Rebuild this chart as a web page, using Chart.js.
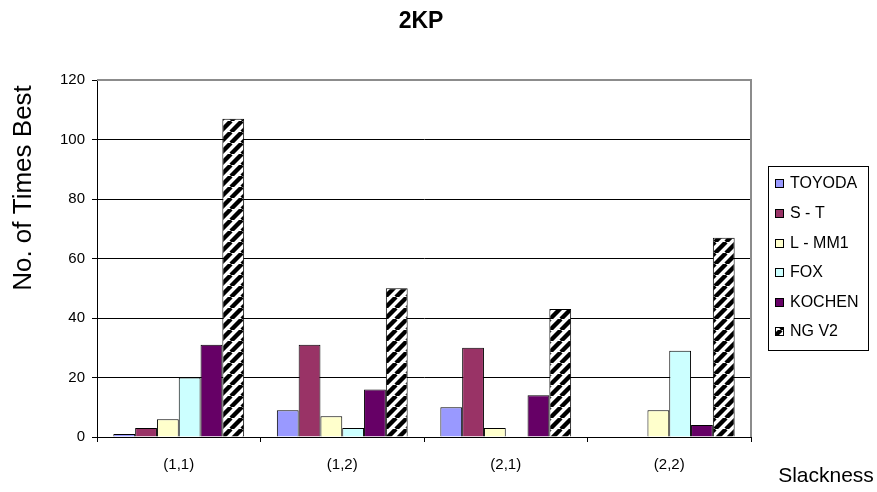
<!DOCTYPE html>
<html>
<head>
<meta charset="utf-8">
<script src="https://cdn.jsdelivr.net/npm/chart.js@4.4.1/dist/chart.umd.min.js"></script>
<style>
  html, body { margin: 0; padding: 0; background: #fff; }
  #wrap { width: 877px; height: 492px; position: relative; }
</style>
</head>
<body>
<div id="wrap"><canvas id="c" width="877" height="492"></canvas></div>
<script>
// Slackness settings on the x axis
const categories = ['(1,1)', '(1,2)', '(2,1)', '(2,2)'];

// Number of times each method was best
const toyoda = [1, 9, 10, 0];
const st     = [3, 31, 30, 0];
const lmm1   = [6, 7, 3, 9];
const fox    = [20, 3, 0, 29];
const kochen = [31, 16, 14, 4];
const ngv2   = [107, 50, 43, 67];

const seriesNames = ['TOYODA', 'S - T', 'L - MM1', 'FOX', 'KOCHEN', 'NG V2'];
const yTicks = [0, 20, 40, 60, 80, 100, 120];

const FONT = '"Liberation Sans", Arial, sans-serif';

// White fill with black "/" diagonal stripes
function stripePattern() {
  const P = 11;
  const t = document.createElement('canvas');
  t.width = P; t.height = P;
  const g = t.getContext('2d');
  g.fillStyle = '#fff';
  g.fillRect(0, 0, P, P);
  g.strokeStyle = '#000';
  g.lineWidth = 4.4;
  g.beginPath();
  for (let k = -1; k <= 1; k++) {
    g.moveTo(k * P, P);
    g.lineTo(k * P + P, 0);
  }
  g.stroke();
  return document.getElementById('c').getContext('2d').createPattern(t, 'repeat');
}

const fills = ['#9999FF', '#993366', '#FFFFCC', '#CCFFFF', '#660066', stripePattern()];
const values = [toyoda, st, lmm1, fox, kochen, ngv2];

const datasets = values.map((v, i) => ({
  label: seriesNames[i],
  data: v,
  backgroundColor: fills[i],
  borderColor: '#000',
  borderWidth: 1,
  categoryPercentage: 0.8,
  barPercentage: 1.0
}));

// Title, axis titles, plot frame and boxed legend
const decorations = {
  id: 'decorations',
  afterDraw(chart) {
    const ctx = chart.ctx;
    const a = chart.chartArea;
    ctx.save();

    // plot area frame (top and right sides)
    ctx.strokeStyle = '#8c8c8c';
    ctx.lineWidth = 2;
    ctx.beginPath();
    ctx.moveTo(a.left, a.top);
    ctx.lineTo(a.right, a.top);
    ctx.lineTo(a.right, a.bottom);
    ctx.stroke();

    ctx.fillStyle = '#000';
    ctx.textAlign = 'center';
    ctx.textBaseline = 'middle';

    ctx.font = 'bold 23px ' + FONT;
    ctx.fillText('2KP', 421, 22);

    ctx.font = '21px ' + FONT;
    ctx.fillText('Slackness', 826, 476);

    ctx.save();
    ctx.translate(24, 188);
    ctx.rotate(-Math.PI / 2);
    ctx.font = '26px ' + FONT;
    ctx.fillText('No. of Times Best', 0, 0);
    ctx.restore();

    // legend
    const lx = 768, ly = 166, lw = 100, lh = 184;
    ctx.fillStyle = '#fff';
    ctx.fillRect(lx, ly, lw, lh);
    ctx.strokeStyle = '#000';
    ctx.lineWidth = 1;
    ctx.strokeRect(lx + 0.5, ly + 0.5, lw, lh);
    const rows = [183, 213, 243, 272, 302, 331];
    ctx.font = '16px ' + FONT;
    ctx.textAlign = 'left';
    chart.data.datasets.forEach((ds, i) => {
      const y = rows[i];
      ctx.fillStyle = ds.backgroundColor;
      ctx.fillRect(775, y - 4, 8, 8);
      ctx.strokeStyle = '#000';
      ctx.strokeRect(775.5, y - 3.5, 8, 8);
      ctx.fillStyle = '#000';
      ctx.fillText(ds.label, 790, y + 1);
    });
    ctx.restore();
  }
};

new Chart(document.getElementById('c'), {
  type: 'bar',
  data: { labels: categories, datasets },
  plugins: [decorations],
  options: {
    responsive: false,
    animation: false,
    devicePixelRatio: 1,
    layout: { padding: { left: 0, right: 126, top: 80, bottom: 0 } },
    plugins: {
      legend: { display: false },
      title: { display: false },
      tooltip: { enabled: false }
    },
    scales: {
      x: {
        afterFit(s) { s.height = 55; },
        grid: {
          offset: true,
          drawOnChartArea: false,
          drawTicks: true,
          tickLength: 5,
          color: '#000'
        },
        border: { color: '#000', width: 1 },
        ticks: {
          color: '#000',
          font: { family: FONT, size: 15 },
          padding: 14
        }
      },
      y: {
        min: 0,
        max: 120,
        afterFit(s) { s.width = 97; },
        afterBuildTicks(s) { s.ticks = yTicks.map(v => ({ value: v })); },
        grid: {
          color: '#000',
          lineWidth: 1,
          drawTicks: true,
          tickLength: 5
        },
        border: { color: '#000', width: 1 },
        ticks: {
          color: '#000',
          font: { family: FONT, size: 15 },
          padding: 7
        }
      }
    }
  }
});
</script>
</body>
</html>
